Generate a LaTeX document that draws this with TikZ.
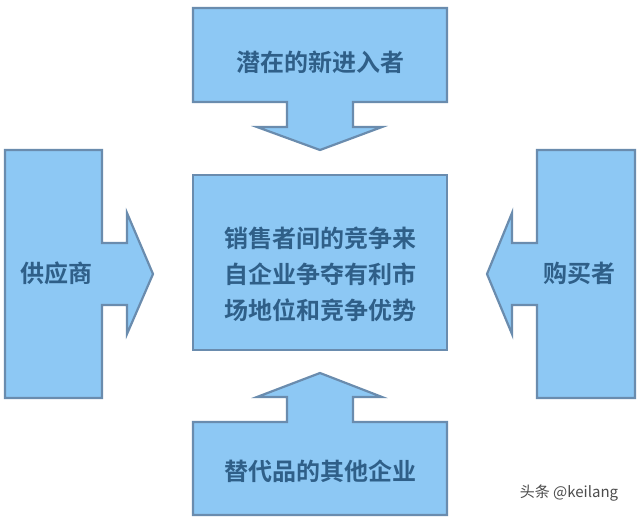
\documentclass[tikz,border=0pt]{standalone}
\usepackage{fontspec}
\newfontfamily\cjk{Noto Sans CJK SC}[BoldFont={Noto Sans CJK SC Bold}]
\definecolor{boxfill}{HTML}{8DC8F4}
\definecolor{boxline}{HTML}{6A8CAE}
\definecolor{txt}{HTML}{2F5F88}
\tikzset{
  shapebox/.style={fill=boxfill, draw=boxline, line width=2.2pt, line join=miter},
  lbl/.style={text=txt, font=\cjk\bfseries\fontsize{24}{36}\selectfont, align=center, inner sep=0pt},
  wmark/.style={text=black!70, font=\cjk\fontsize{15}{17}\selectfont, inner sep=0pt}
}
\begin{document}
\begin{tikzpicture}[x=1pt,y=-1pt]
\useasboundingbox[fill=white] (0,0) rectangle (640,520);
% top
\draw[shapebox] (193,8) -- (447,8) -- (447,102) -- (353,102) -- (353,127) -- (382,127) -- (320,150) -- (257,127) -- (287,127) -- (287,102) -- (193,102) -- cycle;
% left
\draw[shapebox] (5,150) -- (102,150) -- (102,243) -- (127,243) -- (127,213) -- (153,274) -- (127,334) -- (127,305) -- (102,305) -- (102,398) -- (5,398) -- cycle;
% right
\draw[shapebox] (635,150) -- (537,150) -- (537,243) -- (512,243) -- (512,213) -- (487,274) -- (512,334) -- (512,305) -- (537,305) -- (537,398) -- (635,398) -- cycle;
% bottom
\draw[shapebox] (193,515) -- (447,515) -- (447,422) -- (353,422) -- (353,397) -- (382,397) -- (320,373) -- (257,397) -- (287,397) -- (287,422) -- (193,422) -- cycle;
% center
\draw[shapebox] (193,175) rectangle (447,350);
\node[lbl] (top) at (320,62) {潜在的新进入者};
\node[lbl] (center) at (320,274) {销售者间的竞争来\\自企业争夺有利市\\场地位和竞争优势};
\node[lbl] (left) at (56,273) {供应商};
\node[lbl] (right) at (579,273) {购买者};
\node[lbl] (bottom) at (320,471) {替代品的其他企业};
\node[wmark] (wm) at (569,493) {头条 @keilang};
\end{tikzpicture}
\end{document}
